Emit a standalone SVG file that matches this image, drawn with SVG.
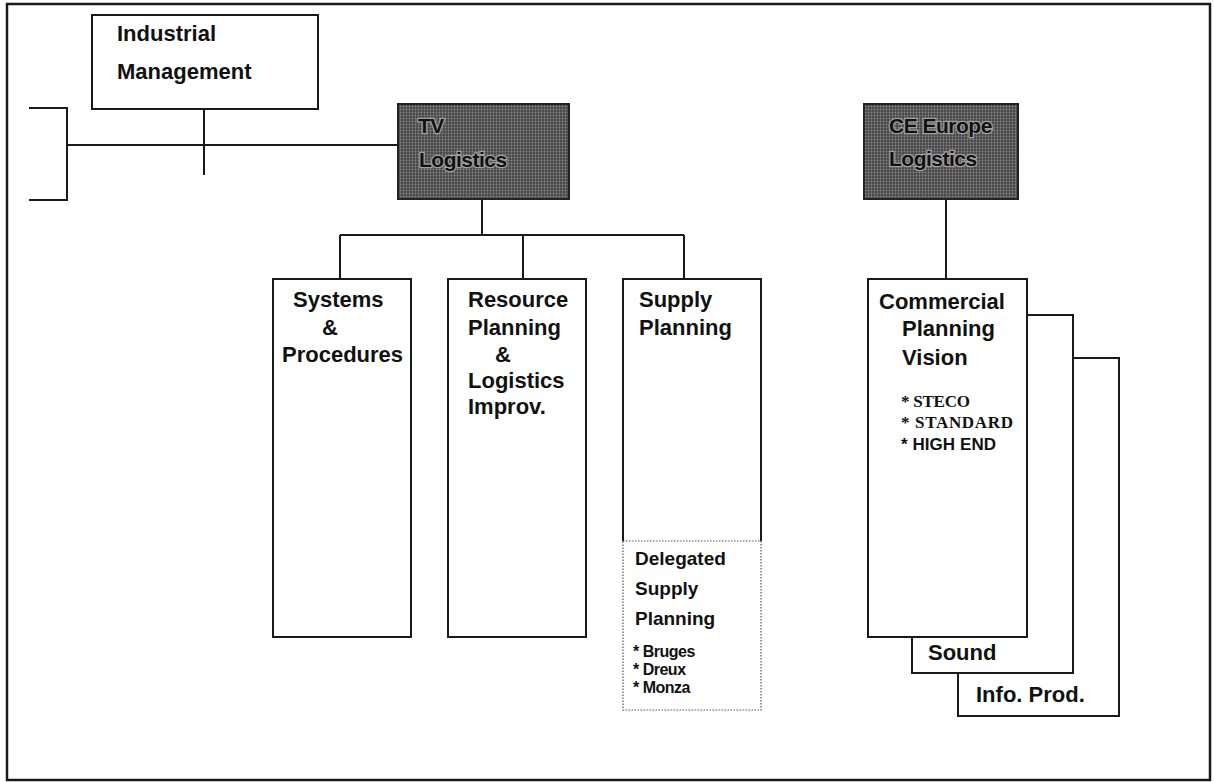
<svg xmlns="http://www.w3.org/2000/svg" width="1214" height="782" viewBox="0 0 1214 782">
  <defs>
    <!-- halftone grey fill for the shaded logistics boxes -->
    <pattern id="halftone" width="3" height="3" patternUnits="userSpaceOnUse">
      <rect width="3" height="3" fill="#484848"/>
      <circle cx="1.5" cy="1.5" r="0.9" fill="#8a8a8a"/>
    </pattern>
    <style>
      .frame { fill: none; stroke: #1a1a1a; stroke-width: 2.5; }
      .box { fill: #ffffff; stroke: #1a1a1a; stroke-width: 2; }
      .dark { fill: url(#halftone); stroke: #222; stroke-width: 2; }
      .dotted { fill: #ffffff; stroke: #555; stroke-width: 1.2; stroke-dasharray: 1.5 1.5; }
      .line { fill: none; stroke: #1a1a1a; stroke-width: 2; }
      .t { font-family: "Liberation Sans", Arial, sans-serif; font-weight: bold; font-size: 22px; fill: #111; }
      .td { font-family: "Liberation Sans", Arial, sans-serif; font-weight: bold; font-size: 21px; fill: #111;
            stroke: #a0a0a0; stroke-width: 2.5; paint-order: stroke; letter-spacing: -0.5px; }
      .ts { font-family: "Liberation Sans", Arial, sans-serif; font-weight: bold; font-size: 19px; fill: #111; }
      .tb { font-family: "Liberation Sans", Arial, sans-serif; font-weight: bold; font-size: 16px; fill: #111; letter-spacing: -0.5px; }
      .serif { font-family: "Liberation Serif", "Times New Roman", serif; font-weight: bold; font-size: 17px; fill: #111; }
      .sans17 { font-family: "Liberation Sans", Arial, sans-serif; font-weight: bold; font-size: 17px; fill: #111; }
    </style>
  </defs>

  <rect width="1214" height="782" fill="#ffffff"/>

  <!-- outer frame -->
  <rect class="frame" x="7" y="4" width="1203" height="776"/>

  <!-- connectors -->
  <g id="connectors">
    <polyline class="line" points="29,108 67,108 67,200 29,200"/>
    <line class="line" x1="67" y1="145" x2="398" y2="145"/>
    <line class="line" x1="204" y1="109" x2="204" y2="175"/>
    <line class="line" x1="482" y1="199" x2="482" y2="235"/>
    <line class="line" x1="340" y1="235" x2="684" y2="235"/>
    <line class="line" x1="340" y1="235" x2="340" y2="279"/>
    <line class="line" x1="523" y1="235" x2="523" y2="279"/>
    <line class="line" x1="684" y1="235" x2="684" y2="279"/>
    <line class="line" x1="946" y1="199" x2="946" y2="279"/>
  </g>

  <!-- Industrial Management -->
  <g id="industrial-management">
    <rect class="box" x="92" y="15" width="226" height="94"/>
    <text class="t" x="117" y="41" font-size="23">Industrial</text>
    <text class="t" x="117" y="79" font-size="23">Management</text>
  </g>

  <!-- TV Logistics -->
  <g id="tv-logistics">
    <rect class="dark" x="398" y="104" width="171" height="95"/>
    <text class="td" x="418" y="133">TV</text>
    <text class="td" x="419" y="167">Logistics</text>
  </g>

  <!-- CE Europe Logistics -->
  <g id="ce-europe-logistics">
    <rect class="dark" x="864" y="104" width="154" height="95"/>
    <text class="td" x="889" y="133">CE Europe</text>
    <text class="td" x="889" y="166">Logistics</text>
  </g>

  <!-- Systems & Procedures -->
  <g id="systems-procedures">
    <rect class="box" x="273" y="279" width="138" height="358"/>
    <text class="t" x="293" y="307">Systems</text>
    <text class="t" x="322" y="335">&amp;</text>
    <text class="t" x="282" y="362">Procedures</text>
  </g>

  <!-- Resource Planning & Logistics Improv. -->
  <g id="resource-planning">
    <rect class="box" x="448" y="279" width="138" height="358"/>
    <text class="t" x="468" y="307">Resource</text>
    <text class="t" x="468" y="335">Planning</text>
    <text class="t" x="495" y="362">&amp;</text>
    <text class="t" x="468" y="388">Logistics</text>
    <text class="t" x="468" y="414">Improv.</text>
  </g>

  <!-- Supply Planning with delegated part -->
  <g id="supply-planning">
    <rect class="dotted" x="623" y="541" width="138" height="169"/>
    <path class="line" d="M623,541 V279 H761 V541" fill="#ffffff"/>
    <text class="t" x="639" y="307">Supply</text>
    <text class="t" x="639" y="335">Planning</text>
    <text class="ts" x="635" y="565">Delegated</text>
    <text class="ts" x="635" y="595">Supply</text>
    <text class="ts" x="635" y="625">Planning</text>
    <text class="tb" x="633" y="657">* Bruges</text>
    <text class="tb" x="633" y="675">* Dreux</text>
    <text class="tb" x="633" y="693">* Monza</text>
  </g>

  <!-- Info. Prod. (rear card) -->
  <g id="info-prod">
    <rect class="box" x="958" y="358" width="161" height="358"/>
    <text class="t" x="976" y="702">Info. Prod.</text>
  </g>

  <!-- Sound (middle card) -->
  <g id="sound">
    <rect class="box" x="912" y="315" width="161" height="358"/>
    <text class="t" x="928" y="660">Sound</text>
  </g>

  <!-- Commercial Planning Vision (front card) -->
  <g id="commercial-planning">
    <rect class="box" x="868" y="279" width="159" height="358"/>
    <text class="t" x="879" y="309">Commercial</text>
    <text class="t" x="902" y="336">Planning</text>
    <text class="t" x="902" y="365">Vision</text>
    <text class="serif" x="901" y="407" textLength="69" lengthAdjust="spacing">* STECO</text>
    <text class="serif" x="901" y="428" textLength="112" lengthAdjust="spacing">* STANDARD</text>
    <text class="sans17" x="901" y="450" textLength="95" lengthAdjust="spacing">* HIGH END</text>
  </g>
</svg>
